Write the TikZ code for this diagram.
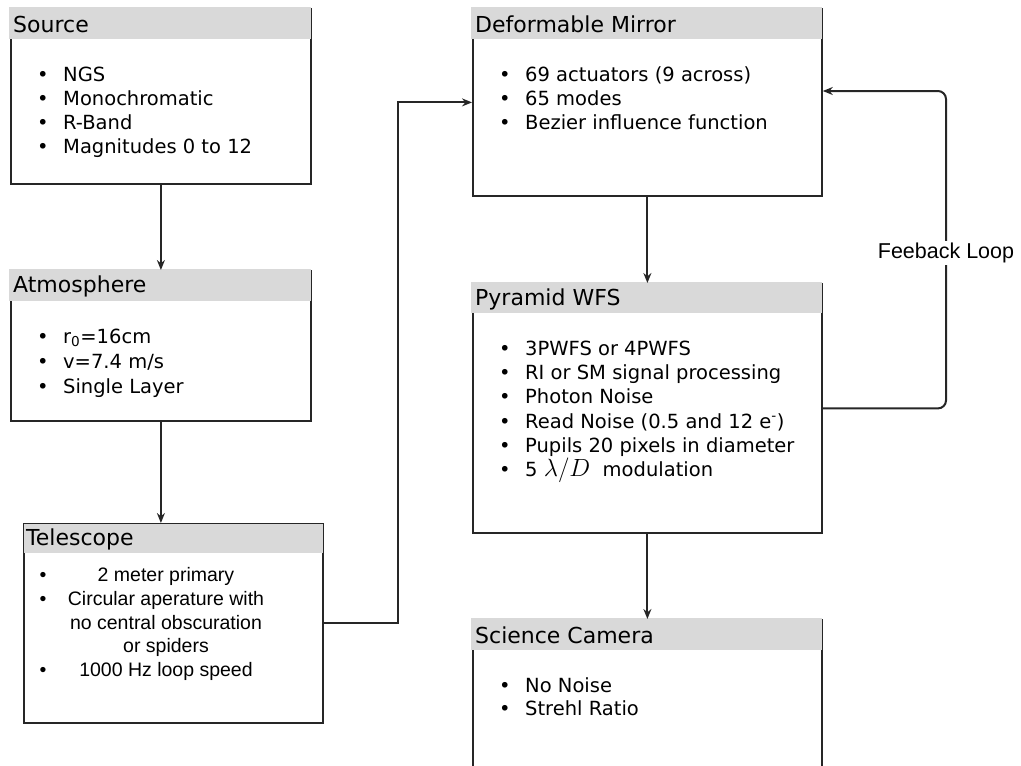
\documentclass[tikz,border=0pt]{standalone}
\usepackage{fontspec}
\setmainfont{DejaVu Sans}
\newfontfamily\arialfont{Liberation Sans}
\usetikzlibrary{arrows.meta}
\tikzset{>={Stealth[length=10pt,width=8pt]}}

\begin{document}
\begin{tikzpicture}[x=1pt,y=-1pt,
    box/.style={draw=black!85, line width=1.8pt, anchor=north west, inner sep=0pt},
    hdr/.style={fill=black!15},
    title/.style={anchor=west, inner sep=0pt, font=\fontsize{22}{24}\selectfont},
    item/.style={anchor=base west, inner sep=0pt, font=\fontsize{19.5}{24}\selectfont},
    tline/.style={anchor=base, inner sep=0pt, font=\arialfont\fontsize{19.5}{24}\selectfont},
    conn/.style={->, line width=2pt, black!85}]
    \useasboundingbox (0,0) rectangle (1021,766);
    %\draw[help lines] (0,0) grid[step=50pt] (1021,766);

    % left column
    \node[box, minimum width=300pt, minimum height=175pt] (src) at (10,8) {};
    \fill[hdr] ([xshift=-1pt,yshift=1pt]src.north west) rectangle ([xshift=-0.9pt,yshift=-31pt]src.north east);
    \node[title] (src-t) at ([xshift=3pt,yshift=-16pt]src.north west) {Source};
    \foreach \t [count=\i] in {NGS, Monochromatic, R-Band, Magnitudes 0 to 12}
        \node[item] (src-\i) at (37, 57.5+24*\i) {\makebox[26pt][l]{\textbullet}\t};

    \node[box, minimum width=300pt, minimum height=150pt] (atm) at (10,270) {};
    \fill[hdr] ([xshift=-1pt,yshift=1pt]atm.north west) rectangle ([xshift=-0.9pt,yshift=-31pt]atm.north east);
    \node[title] (atm-t) at ([xshift=3pt,yshift=-16pt]atm.north west) {Atmosphere};
    \foreach \t [count=\i] in {r\textsubscript{0}=16cm, v=7.4 m/s, Single Layer}
        \node[item] (atm-\i) at (37, 318.5+25*\i) {\makebox[26pt][l]{\textbullet}\t};

    \node[box, minimum width=299pt, minimum height=199pt] (tel) at (23,523) {};
    \fill[hdr] ([xshift=0.9pt,yshift=-0.9pt]tel.north west) rectangle ([xshift=-0.9pt,yshift=-30pt]tel.north east);
    \node[title] (tel-t) at ([xshift=3pt,yshift=-16pt]tel.north west) {Telescope};
    \node[tline] (tel-1) at (166,581) {2 meter primary};
    \node[tline] (tel-2) at (166,605) {Circular aperature with};
    \node[tline] (tel-3) at (166,629) {no central obscuration};
    \node[tline] (tel-4) at (166,652) {or spiders};
    \node[tline] (tel-5) at (166,676) {1000 Hz loop speed};
    \foreach \n in {1,2,5}
        \node[tline] (tel-b\n) at (43,0 |- tel-\n.base) {\textbullet};

    % right column
    \node[box, minimum width=349pt, minimum height=187pt] (dm) at (472,8) {};
    \fill[hdr] ([xshift=-1pt,yshift=1pt]dm.north west) rectangle ([xshift=-0.9pt,yshift=-31pt]dm.north east);
    \node[title] (dm-t) at ([xshift=3pt,yshift=-16pt]dm.north west) {Deformable Mirror};
    \foreach \t [count=\i] in {69 actuators (9 across), 65 modes, Bezier influence function}
        \node[item] (dm-\i) at (499, 57.5+24*\i) {\makebox[26pt][l]{\textbullet}\t};

    \node[box, minimum width=349pt, minimum height=249pt] (pwfs) at (472,283) {};
    \fill[hdr] ([xshift=-1pt,yshift=1pt]pwfs.north west) rectangle ([xshift=-0.9pt,yshift=-30pt]pwfs.north east);
    \node[title] (pwfs-t) at ([xshift=3pt,yshift=-16pt]pwfs.north west) {Pyramid WFS};
    \foreach \t [count=\i] in {3PWFS or 4PWFS, RI or SM signal processing, Photon Noise,
        Read Noise (0.5 and 12 e\textsuperscript{-}), Pupils 20 pixels in diameter,
        5 {\fontsize{23}{24}\selectfont$\lambda/D$}\ \ modulation}
        \node[item] (pwfs-\i) at (499, 331.3+24.2*\i) {\makebox[26pt][l]{\textbullet}\t};

    \node[box, minimum width=349pt, minimum height=190pt] (cam) at (472,619) {};
    \fill[hdr] ([xshift=-1pt,yshift=1pt]cam.north west) rectangle ([xshift=-0.9pt,yshift=-31pt]cam.north east);
    \node[title] (cam-t) at ([xshift=3pt,yshift=-16pt]cam.north west) {Science Camera};
    \foreach \t [count=\i] in {No Noise, Strehl Ratio}
        \node[item] (cam-\i) at (499, 669.5+23*\i) {\makebox[26pt][l]{\textbullet}\t};

    % connectors
    \coordinate (bend) at (398,0);
    \coordinate (fb) at (946,91);
    \draw[conn] (src.south) -- (atm.north);
    \draw[conn] (atm.south) -- (atm.south |- tel.north);
    \draw[conn] (tel.east) -- (tel.east -| bend) |- (dm.west);
    \draw[conn] (dm.south) -- (pwfs.north);
    \draw[conn] (pwfs.south) -- (cam.north);
    \draw[conn, rounded corners=8pt] (pwfs.east) -| (fb) -- (fb -| dm.east);
    \node[fill=white, inner sep=2pt, font=\arialfont\fontsize{21.5}{24}\selectfont] (fb-l) at (946,253) {Feeback Loop};
\end{tikzpicture}
\end{document}
